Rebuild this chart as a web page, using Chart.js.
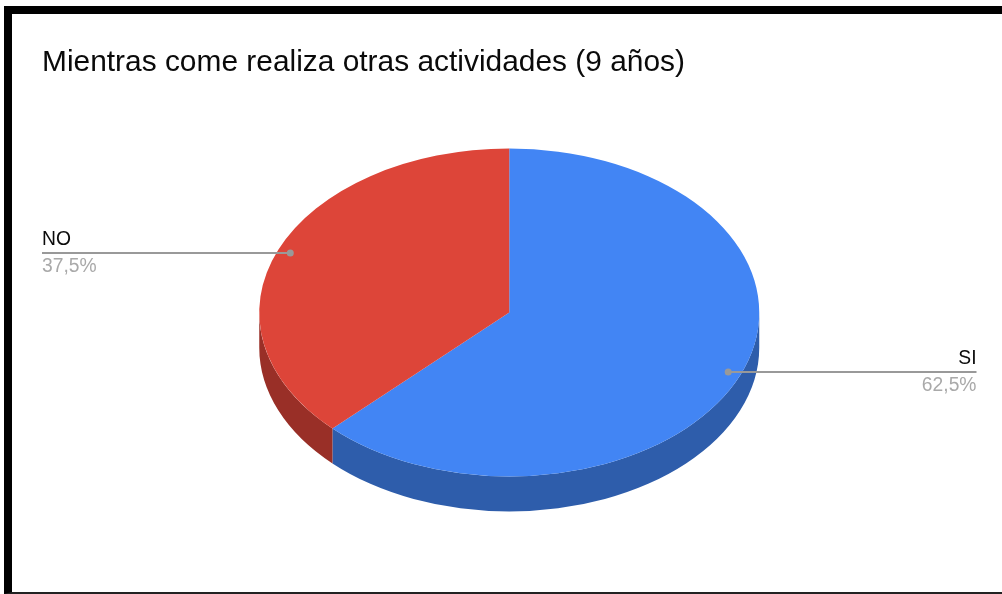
<!DOCTYPE html>
<html lang="es">
<head>
<meta charset="UTF-8">
<title>Mientras come realiza otras actividades (9 años)</title>
<script src="https://cdn.jsdelivr.net/npm/chart.js@4"></script>
<style>
    html, body { margin: 0; padding: 0; background: #fff; overflow: hidden; }
    #wrap { position: relative; width: 1002px; height: 594px; }
    canvas { position: absolute; left: 0; top: 0; }
    #frame {
        position: absolute; left: 4px; top: 6px; right: 0; bottom: 0;
        border-left: 8px solid #000;
        border-top: 8px solid #000;
        border-bottom: 2px solid #222;
        pointer-events: none;
    }
</style>
</head>
<body>
<div id="wrap">
    <canvas id="pieChart" width="1002" height="594"></canvas>
    <div id="frame"></div>
</div>

<script>
var chartTitle = 'Mientras come realiza otras actividades (9 años)';
var categories = ['SI', 'NO'];
var shares = [62.5, 37.5];
var sliceColors = ['#4285f4', '#dd4539'];
var sideColors = ['#2e5dab', '#992f27'];

var FONT = '"Liberation Sans", Arial, sans-serif';
var TILT = 0.656;      // vertical squash of the pie
var DEPTH = 35;        // height of the side wall, in px on screen
var RADIUS = 250;

// Squash the circle into an ellipse and draw the side wall under it
var tiltPlugin = {
    id: 'tilt',
    beforeDatasetsDraw: function(chart) {
        var ctx = chart.ctx;
        var arcs = chart.getDatasetMeta(0).data;
        var c = arcs[0].getProps(['x', 'y'], true);
        ctx.save();
        ctx.translate(c.x, c.y);
        ctx.scale(1, TILT);
        ctx.translate(-c.x, -c.y);
        arcs.forEach(function(arc, i) {
            var p = arc.getProps(['x', 'y', 'startAngle', 'endAngle', 'outerRadius'], true);
            // only the front half of the rim (0..PI on the canvas) is visible
            var from = Math.max(p.startAngle, 0);
            var to = Math.min(p.endAngle, Math.PI);
            if (to <= from) return;
            ctx.beginPath();
            ctx.arc(p.x, p.y, p.outerRadius, from, to);
            ctx.arc(p.x, p.y + DEPTH / TILT, p.outerRadius, to, from, true);
            ctx.closePath();
            ctx.fillStyle = sideColors[i];
            ctx.fill();
        });
    },
    afterDatasetsDraw: function(chart) {
        chart.ctx.restore();
    }
};

// Leader lines with name and percentage at the chart edges
var calloutPlugin = {
    id: 'callouts',
    afterDraw: function(chart) {
        var ctx = chart.ctx;
        var area = chart.chartArea;
        var total = shares.reduce(function(a, b) { return a + b; }, 0);
        chart.getDatasetMeta(0).data.forEach(function(arc, i) {
            var p = arc.getProps(['x', 'y', 'startAngle', 'endAngle', 'outerRadius'], true);
            var mid = (p.startAngle + p.endAngle) / 2;
            var dotX = p.x + Math.cos(mid) * p.outerRadius * 0.948;
            var dotY = p.y + Math.sin(mid) * p.outerRadius * 0.948 * TILT;
            var onRight = dotX > p.x;
            var edge = onRight ? area.right : area.left;

            ctx.save();
            ctx.strokeStyle = '#999';
            ctx.fillStyle = '#999';
            ctx.lineWidth = 2;
            ctx.beginPath();
            ctx.moveTo(dotX, dotY);
            ctx.lineTo(edge, dotY);
            ctx.stroke();
            ctx.beginPath();
            ctx.arc(dotX, dotY, 3.5, 0, Math.PI * 2);
            ctx.fill();

            ctx.font = '19.3px ' + FONT;
            ctx.textAlign = onRight ? 'right' : 'left';
            ctx.textBaseline = 'alphabetic';
            ctx.fillStyle = '#0a0a0a';
            ctx.fillText(categories[i], edge, dotY - 7.5);
            ctx.fillStyle = '#a9a9a9';
            var pct = (shares[i] / total * 100).toFixed(1).replace('.', ',') + '%';
            ctx.fillText(pct, edge, dotY + 19.5);
            ctx.restore();
        });
    }
};

new Chart(document.getElementById('pieChart').getContext('2d'), {
    type: 'pie',
    data: {
        labels: categories,
        datasets: [{
            data: shares,
            backgroundColor: sliceColors,
            borderWidth: 0,
            radius: RADIUS,
            clip: false
        }]
    },
    options: {
        responsive: false,
        animation: false,
        layout: { padding: { left: 42, right: 25.5, top: 44.5, bottom: 49.4 } },
        plugins: {
            legend: { display: false },
            tooltip: { enabled: false },
            title: {
                display: true,
                text: chartTitle,
                align: 'start',
                color: '#0a0a0a',
                font: { family: FONT, size: 29.9, weight: 'normal' },
                padding: { top: 0, bottom: 0 }
            }
        }
    },
    plugins: [tiltPlugin, calloutPlugin]
});
</script>
</body>
</html>
